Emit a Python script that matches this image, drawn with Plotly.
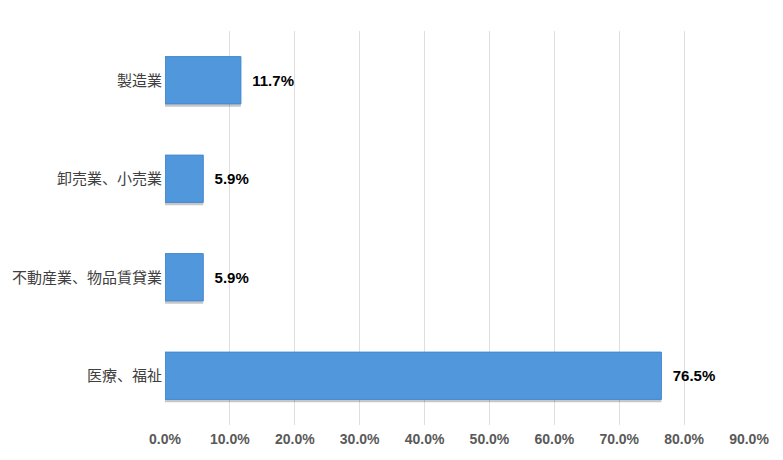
import plotly.graph_objects as go

categories = ["製造業", "卸売業、小売業", "不動産業、物品賃貸業", "医療、福祉"]
values = [11.7, 5.9, 5.9, 76.5]
tick_vals = [0, 10, 20, 30, 40, 50, 60, 70, 80, 90]
tick_text = [f"{v:.1f}%" for v in tick_vals]
labels = [f"{v:.1f}%" for v in values]

fig = go.Figure()
# soft drop shadow under each bar
fig.add_trace(go.Bar(
    y=categories,
    x=values,
    orientation="h",
    width=0.48,
    offset=-0.24 + 0.03,
    marker=dict(color="rgba(0,0,0,0.22)", line=dict(width=0)),
    hoverinfo="skip",
))
fig.add_trace(go.Bar(
    y=categories,
    x=values,
    orientation="h",
    width=0.48,
    offset=-0.24,
    marker=dict(color="#5197dc", line=dict(color="#4588d0", width=1)),
    text=["  " + t for t in labels],
    textposition="outside",
    textfont=dict(family="Liberation Sans, Noto Sans CJK JP", size=15, color="#000000", weight="bold"),
    cliponaxis=False,
))

fig.update_layout(
    width=783, height=460,
    margin=dict(l=157, r=42, t=23, b=43),
    plot_bgcolor="#ffffff",
    paper_bgcolor="#ffffff",
    showlegend=False,
    barmode="overlay",
    xaxis=dict(
        range=[0, 90],
        tickvals=tick_vals,
        ticktext=tick_text,
        showgrid=True,
        gridcolor="#dedede",
        gridwidth=1,
        zeroline=False,
        showline=False,
        automargin=False,
        tickfont=dict(family="Liberation Sans, Noto Sans CJK JP", size=14, color="#595959", weight="bold"),
        ticks="",
        ticklabelstandoff=4,
    ),
    yaxis=dict(
        autorange="reversed",
        showgrid=False,
        zeroline=False,
        showline=False,
        automargin=False,
        ticks="",
        ticklabelstandoff=2,
        tickfont=dict(family="Noto Sans CJK JP", size=15, color="#404040"),
    ),
)

fig.write_html("out.html")
